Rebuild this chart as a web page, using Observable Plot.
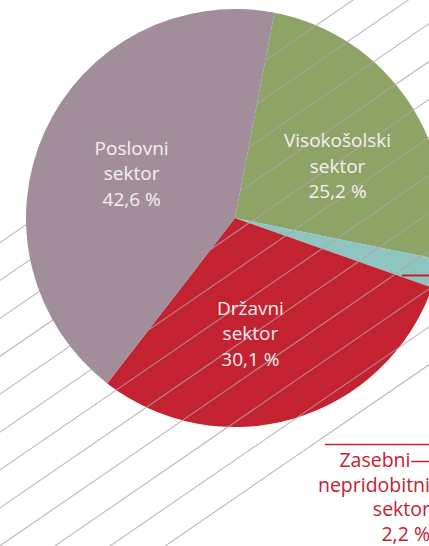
<!DOCTYPE html>
<html><head><meta charset="utf-8">
<script src="https://cdn.jsdelivr.net/npm/d3@7"></script>
<script src="https://cdn.jsdelivr.net/npm/@observablehq/plot@0.6"></script>
<style>
html,body{margin:0;padding:0;background:#fff;}
#chart{width:429px;height:546px;overflow:hidden;position:relative;}
#chart svg{display:block;}
</style></head><body><div id="chart"></div>
<script>
// ---- data ----
const categories = ["Visokošolski\nsektor", "Zasebni—\nnepridobitni\nsektor", "Državni\nsektor", "Poslovni\nsektor"];
const shares = [25.2, 2.2, 30.1, 42.6];
const valueLabels = ["25,2 %", "2,2 %", "30,1 %", "42,6 %"];
const colors = ["#8ea466", "#8fc5c1", "#c32231", "#a28e9a"];

// ---- layout ----
const W = 429, H = 546;
const CX = 235, CY = 218, R = 209;          // pie centre / radius in px
const startDeg = 10.9;                       // first slice starts here (clockwise from 12 o'clock)
const labelPolar = [[78.6, 0.498], null, [174.2, 0.707], [277.1, 0.501]]; // [angle°, radius fraction] of last baseline
const hatchSlope = 0.687, hatchB0 = 241.7, hatchGap = 37.9, hatchCount = 12;
const HATCH = "#b2a2aa";

const ux = px => (px - CX) / R;
const uy = py => (CY - py) / R;

const rows = categories.map((c, i) => ({name: c, share: shares[i], value: valueLabels[i], color: colors[i], i}));
const start = startDeg * Math.PI / 180;
const arcs = d3.pie().sort(null).value(d => d.share).startAngle(start).endAngle(start + 2 * Math.PI)(rows);

function slices(filter) {
  return (index, scales) => {
    const cx = scales.x(0), cy = scales.y(0), r = scales.x(1) - scales.x(0);
    const g = d3.create("svg:g").attr("transform", `translate(${cx},${cy})`);
    const arc = d3.arc().innerRadius(0).outerRadius(r);
    g.selectAll("path").data(arcs.filter(filter)).join("path")
      .attr("d", arc).attr("fill", d => d.data.color);
    return g.node();
  };
}

const hatch = [];
for (let k = 0; k < hatchCount; k++) {
  const b = hatchB0 + hatchGap * k;
  hatch.push({k, x: ux(-5), y: uy(b + hatchSlope * 5)});
  hatch.push({k, x: ux(W + 5), y: uy(b - hatchSlope * (W + 5))});
}

const inner = rows.map((d, i) => labelPolar[i] ? {
  text: d.name + "\n" + d.value,
  x: labelPolar[i][1] * Math.sin(labelPolar[i][0] * Math.PI / 180),
  y: labelPolar[i][1] * Math.cos(labelPolar[i][0] * Math.PI / 180)
} : null).filter(Boolean);

const small = rows[1];

const chart = Plot.plot({
  width: W, height: H,
  margin: 0,
  x: {domain: [ux(0), ux(W)], range: [0, W], axis: null},
  y: {domain: [uy(H), uy(0)], range: [H, 0], axis: null},
  style: {background: "white", fontFamily: "'Open Sans', sans-serif"},
  marks: [
    slices(d => d.data.i !== 3),
    Plot.line(hatch, {x: "x", y: "y", z: "k", stroke: HATCH, strokeWidth: 1.1, strokeOpacity: 0.8}),
    slices(d => d.data.i === 3),
    Plot.text(inner, {x: "x", y: "y", text: "text", fill: "#f4f0f2", fontSize: 19, fontWeight: 400,
      lineAnchor: "bottom", lineHeight: 1.33, textAnchor: "middle"}),
    Plot.ruleY([uy(275)], {x1: ux(402), x2: ux(W + 5), stroke: "#c8202f", strokeWidth: 2}),
    Plot.ruleY([uy(444)], {x1: ux(325), x2: ux(W + 5), stroke: "#c8202f", strokeWidth: 1.5}),
    Plot.text([small.name + "\n" + small.value], {frameAnchor: "bottom-right", dx: 0.5, dy: -6,
      fill: "#c8202f", fontSize: 19.5, fontWeight: 400, lineAnchor: "bottom", lineHeight: 1.25, textAnchor: "end"})
  ]
});

document.getElementById("chart").appendChild(chart);
</script>
</body></html>
